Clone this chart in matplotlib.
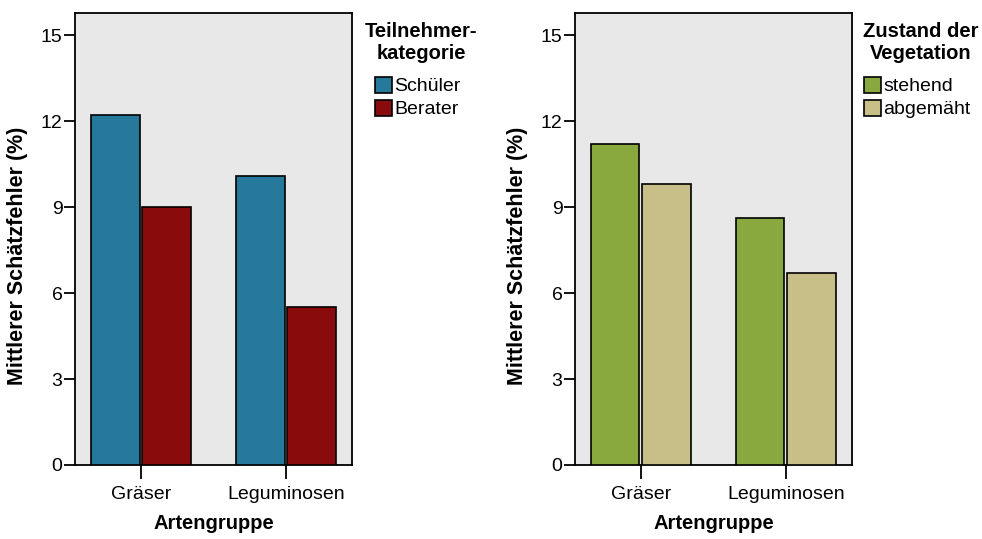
import matplotlib.pyplot as plt
import numpy as np
from matplotlib.patches import Patch

plt.rcParams['font.family'] = ['Liberation Sans', 'DejaVu Sans']

# data
groups = ['Gräser', 'Leguminosen']
schueler = [12.2, 10.1]
berater = [9.0, 5.5]
stehend = [11.2, 8.6]
abgemaeht = [9.8, 6.7]

yticks = [0, 3, 6, 9, 12, 15]

panels = [
    ('Teilnehmer-\nkategorie', ['Schüler', 'Berater'], [schueler, berater], ['#26799a', '#8a0b0b']),
    ('Zustand der\nVegetation', ['stehend', 'abgemäht'], [stehend, abgemaeht], ['#89a93e', '#c8bf88']),
]

fig = plt.figure(figsize=(9.82, 5.39), dpi=100, facecolor='white')
lefts = [0.0764, 0.5855]
leg_x = [1.04, 1.0]

x = np.arange(len(groups))
w = 0.335
for left, lx, (title, names, series, colors) in zip(lefts, leg_x, panels):
    ax = fig.add_axes([left, 0.1373, 0.282, 0.8386])
    ax.set_facecolor('#e8e8e8')
    for k, (vals, c) in enumerate(zip(series, colors)):
        off = (k - 0.5) * (w + 0.02)
        ax.bar(x + off, vals, width=w, color=c, edgecolor='black', linewidth=1.2, zorder=3)
    ax.set_xlim(-0.455, 1.455)
    ax.set_ylim(0, 15.77)
    ax.set_yticks(yticks)
    ax.set_xticks(x)
    ax.set_xticklabels(groups, fontsize=14)
    ax.tick_params(axis='y', labelsize=14, length=8, width=1.3, pad=1)
    ax.tick_params(axis='x', length=10, width=1.3, pad=5)
    for s in ax.spines.values():
        s.set_linewidth(1.3)
    ax.set_ylabel('Mittlerer Schätzfehler (%)', fontsize=15.5, fontweight='bold')
    ax.yaxis.set_label_coords(-0.17, 0.462)
    ax.set_xlabel('Artengruppe', fontsize=14.5, fontweight='bold', labelpad=8)
    handles = [Patch(facecolor=c, edgecolor='black', linewidth=1.2) for c in colors]
    ax.legend(handles, names, loc='upper left', bbox_to_anchor=(lx, 0.885),
              frameon=False, fontsize=14, handlelength=0.9, handleheight=0.9,
              handletextpad=0.1, labelspacing=0.22, borderaxespad=0.2)
    ax.text(1.25, 0.98, title, transform=ax.transAxes, ha='center', va='top',
            fontsize=14.5, fontweight='bold', multialignment='center', linespacing=1.2)

plt.savefig('out.png', dpi=100)
